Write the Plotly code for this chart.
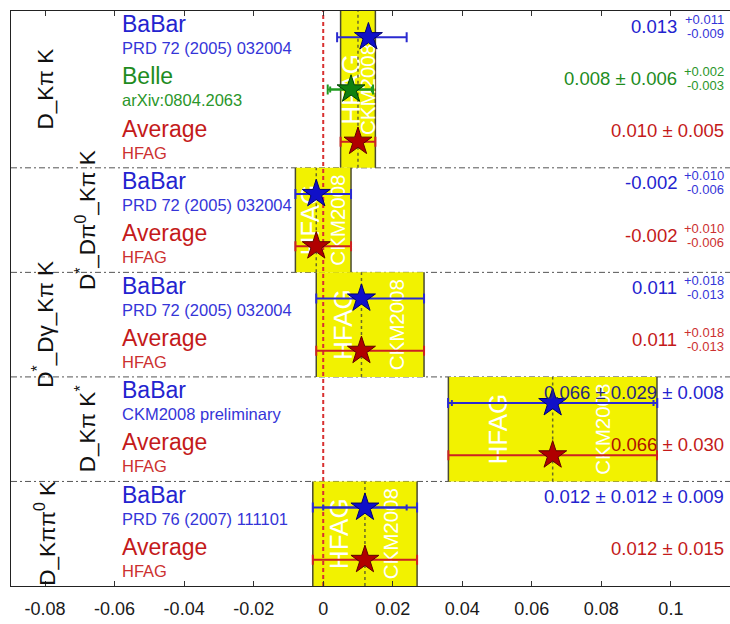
import math
import plotly.graph_objects as go

# ---------------- data ----------------
section_labels = ["D_Kπ K", "D<sup>*</sup>_Dπ<sup>0</sup>_Kπ K", "D<sup>*</sup>_Dγ_Kπ K",
                  "D_Kπ K<sup>*</sup>", "D_Kππ<sup>0</sup> K"]
section_nrows = [3, 2, 2, 2, 2]
avg_values = [0.010, -0.002, 0.011, 0.066, 0.012]
avg_err_plus = [0.005, 0.010, 0.018, 0.030, 0.015]
avg_err_minus = [0.005, 0.006, 0.013, 0.030, 0.015]

row_experiment = ["BaBar", "Belle", "Average", "BaBar", "Average", "BaBar", "Average",
                  "BaBar", "Average", "BaBar", "Average"]
row_reference = ["PRD 72 (2005) 032004", "arXiv:0804.2063", "HFAG",
                 "PRD 72 (2005) 032004", "HFAG",
                 "PRD 72 (2005) 032004", "HFAG",
                 "CKM2008 preliminary", "HFAG",
                 "PRD 76 (2007) 111101", "HFAG"]
row_value = [0.013, 0.008, 0.010, -0.002, -0.002, 0.011, 0.011, 0.066, 0.066, 0.012, 0.012]
row_stat_plus = [0.011, 0.006, 0.005, 0.010, 0.010, 0.018, 0.018, 0.029, 0.030, 0.012, 0.015]
row_stat_minus = [0.009, 0.006, 0.005, 0.006, 0.006, 0.013, 0.013, 0.029, 0.030, 0.012, 0.015]
row_syst_plus = [0.0, 0.002, 0.0, 0.0, 0.0, 0.0, 0.0, 0.008, 0.0, 0.009, 0.0]
row_syst_minus = [0.0, 0.003, 0.0, 0.0, 0.0, 0.0, 0.0, 0.008, 0.0, 0.009, 0.0]
row_value_text = ["0.013", "0.008 ± 0.006", "0.010 ± 0.005", "-0.002", "-0.002",
                  "0.011", "0.011", "0.066 ± 0.029 ± 0.008", "0.066 ± 0.030",
                  "0.012 ± 0.012 ± 0.009", "0.012 ± 0.015"]
row_value_inband = ["", "", "", "", "", "", "", "0.066 ± 0.029", "0.066", "", ""]
row_sup_text = ["+0.011", "+0.002", "", "+0.010", "+0.010", "+0.018", "+0.018", "", "", "", ""]
row_sub_text = ["-0.009", "-0.003", "", "-0.006", "-0.006", "-0.013", "-0.013", "", "", "", ""]

x_tickvals = [-0.08, -0.06, -0.04, -0.02, 0, 0.02, 0.04, 0.06, 0.08, 0.1]
x_ticktext = ["-0.08", "-0.06", "-0.04", "-0.02", "0", "0.02", "0.04", "0.06", "0.08", "0.1"]

# ---------------- styles ----------------
FONT = "Liberation Sans, Arial, Helvetica, sans-serif"
styles = {
    "BaBar": dict(text="#2323cf", sub="#3535d8", bar="#2a2ad0", fill="#1010c8", edge="#000070",
                  inband="#262680"),
    "Belle": dict(text="#1e8c1e", sub="#2a962a", bar="#1f9a1f", fill="#108010", edge="#004000",
                  inband="#1e5c1e"),
    "Average": dict(text="#c41a1a", sub="#cc3030", bar="#cc2222", fill="#b00000", edge="#600000",
                    inband="#b01000"),
}

nrows = len(row_value)
YMAX = float(nrows)
row_y = [YMAX - i - 0.5 for i in range(nrows)]

fig = go.Figure()
shapes = []

# section bounds
sec_top, sec_bot = [], []
start = 0
for n in section_nrows:
    sec_top.append(YMAX - start)
    sec_bot.append(YMAX - start - n)
    start += n

# yellow bands
for s in range(len(section_labels)):
    lo = avg_values[s] - avg_err_minus[s]
    hi = avg_values[s] + avg_err_plus[s]
    shapes.append(dict(type="rect", xref="x", yref="y", x0=lo, x1=hi, y0=sec_bot[s], y1=sec_top[s],
                       fillcolor="#f2f200", line=dict(width=0), layer="below"))
    for xe in (lo, hi):
        shapes.append(dict(type="line", xref="x", yref="y", x0=xe, x1=xe, y0=sec_bot[s], y1=sec_top[s],
                           line=dict(color="#4a4a30", width=1.5), layer="below"))
    ymid = 0.5 * (sec_bot[s] + sec_top[s])
    for frac, txt, fs in ((0.23, "HFAG", 26), (0.73, "CKM2008", 20.5)):
        xc = lo + frac * (hi - lo)
        shapes.append(dict(type="rect", xref="x", yref="y", x0=xc - 0.0002, x1=xc + 0.0002,
                           y0=ymid - 0.3, y1=ymid + 0.3, line=dict(width=0), fillcolor="rgba(0,0,0,0)",
                           layer="below",
                           label=dict(text=txt, textangle=-90, textposition="middle center",
                                      font=dict(family=FONT, size=fs, color="white"))))
    shapes.append(dict(type="line", xref="x", yref="y", x0=avg_values[s], x1=avg_values[s],
                       y0=sec_bot[s], y1=sec_top[s],
                       line=dict(color="#6a6a28", width=1.5, dash="dot"), layer="below"))

# zero line
shapes.append(dict(type="line", xref="x", yref="y", x0=0, x1=0, y0=0, y1=YMAX,
                   line=dict(color="#d83030", width=2, dash="4px,3px"), layer="below"))

# separators
for s in range(1, len(section_labels)):
    shapes.append(dict(type="line", xref="paper", yref="y", x0=0, x1=1, y0=sec_top[s], y1=sec_top[s],
                       line=dict(color="#555555", width=1, dash="6px,3px,2px,3px"), layer="below"))

# traces
for kind in ["BaBar", "Belle", "Average"]:
    idx = [i for i in range(nrows) if row_experiment[i] == kind]
    st = styles[kind]
    tot_p = [math.hypot(row_stat_plus[i], row_syst_plus[i]) for i in idx]
    tot_m = [math.hypot(row_stat_minus[i], row_syst_minus[i]) for i in idx]
    sidx = [i for i in idx if row_syst_plus[i] > 0 or row_syst_minus[i] > 0]
    if sidx:
        fig.add_trace(go.Scatter(
            x=[row_value[i] for i in sidx], y=[row_y[i] for i in sidx], mode="markers",
            marker=dict(size=1, opacity=0),
            error_x=dict(type="data", symmetric=False,
                         array=[row_stat_plus[i] for i in sidx],
                         arrayminus=[row_stat_minus[i] for i in sidx],
                         color=st["bar"], thickness=2, width=3),
            showlegend=False, hoverinfo="skip"))
    fig.add_trace(go.Scatter(
        x=[row_value[i] for i in idx], y=[row_y[i] for i in idx], mode="markers",
        marker=dict(symbol="star", size=21, color=st["fill"], line=dict(color=st["edge"], width=1)),
        error_x=dict(type="data", symmetric=False, array=tot_p, arrayminus=tot_m,
                     color=st["bar"], thickness=2, width=5),
        showlegend=False))

# annotations
ann = []
PX_L, PX_R = 11.0, 730.0
def px2paper(px):
    return (px - PX_L) / (PX_R - PX_L)

for i in range(nrows):
    st = styles[row_experiment[i]]
    ann.append(dict(xref="paper", yref="y", x=px2paper(120), y=row_y[i], yshift=13,
                    xanchor="left", yanchor="middle", showarrow=False, text=row_experiment[i],
                    font=dict(family=FONT, size=23, color=st["text"])))
    ann.append(dict(xref="paper", yref="y", x=px2paper(120), y=row_y[i], yshift=-11,
                    xanchor="left", yanchor="middle", showarrow=False, text=row_reference[i],
                    font=dict(family=FONT, size=16.5, color=st["sub"])))
    txt = row_value_text[i]
    pre = row_value_inband[i]
    if pre and txt.startswith(pre):
        txt = "<span style='color:%s'>%s</span>%s" % (st["inband"], pre, txt[len(pre):])
    if row_sup_text[i]:
        ann.append(dict(xref="paper", yref="y", x=px2paper(679), y=row_y[i], yshift=11,
                        xanchor="right", yanchor="middle", showarrow=False, text=txt,
                        font=dict(family=FONT, size=18.5, color=st["text"])))
        ann.append(dict(xref="paper", yref="y", x=px2paper(726), y=row_y[i], yshift=18,
                        xanchor="right", yanchor="middle", showarrow=False, text=row_sup_text[i],
                        font=dict(family=FONT, size=13, color=st["sub"])))
        ann.append(dict(xref="paper", yref="y", x=px2paper(726), y=row_y[i], yshift=4,
                        xanchor="right", yanchor="middle", showarrow=False, text=row_sub_text[i],
                        font=dict(family=FONT, size=13, color=st["sub"])))
    else:
        ann.append(dict(xref="paper", yref="y", x=px2paper(726), y=row_y[i], yshift=11,
                        xanchor="right", yanchor="middle", showarrow=False, text=txt,
                        font=dict(family=FONT, size=18.5, color=st["text"])))

label_px = [45, 86, 43, 86, 45]
for s in range(len(section_labels)):
    ann.append(dict(xref="paper", yref="y", x=px2paper(label_px[s]),
                    y=0.5 * (sec_bot[s] + sec_top[s]), xanchor="center", yanchor="middle",
                    showarrow=False, textangle=-90, text=section_labels[s],
                    font=dict(family=FONT, size=22.5, color="#111111")))

fig.update_layout(
    width=730, height=624,
    margin=dict(l=11, r=0, t=11, b=38),
    paper_bgcolor="white", plot_bgcolor="white",
    shapes=shapes, annotations=ann,
    xaxis=dict(range=[-0.0898, 0.1170], tickvals=x_tickvals, ticktext=x_ticktext,
               ticks="inside", ticklen=5, tickwidth=1, tickcolor="#333333",
               showline=True, linecolor="#222222", linewidth=1.2, mirror="allticks",
               showgrid=False, zeroline=False,
               tickfont=dict(family=FONT, size=18, color="#1a1a1a"), ticklabelstandoff=6),
    yaxis=dict(range=[0, YMAX], showticklabels=False, showgrid=False, zeroline=False,
               showline=True, linecolor="#222222", linewidth=1.2, ticks=""),
    font=dict(family=FONT),
)

fig.write_html("out.html")
